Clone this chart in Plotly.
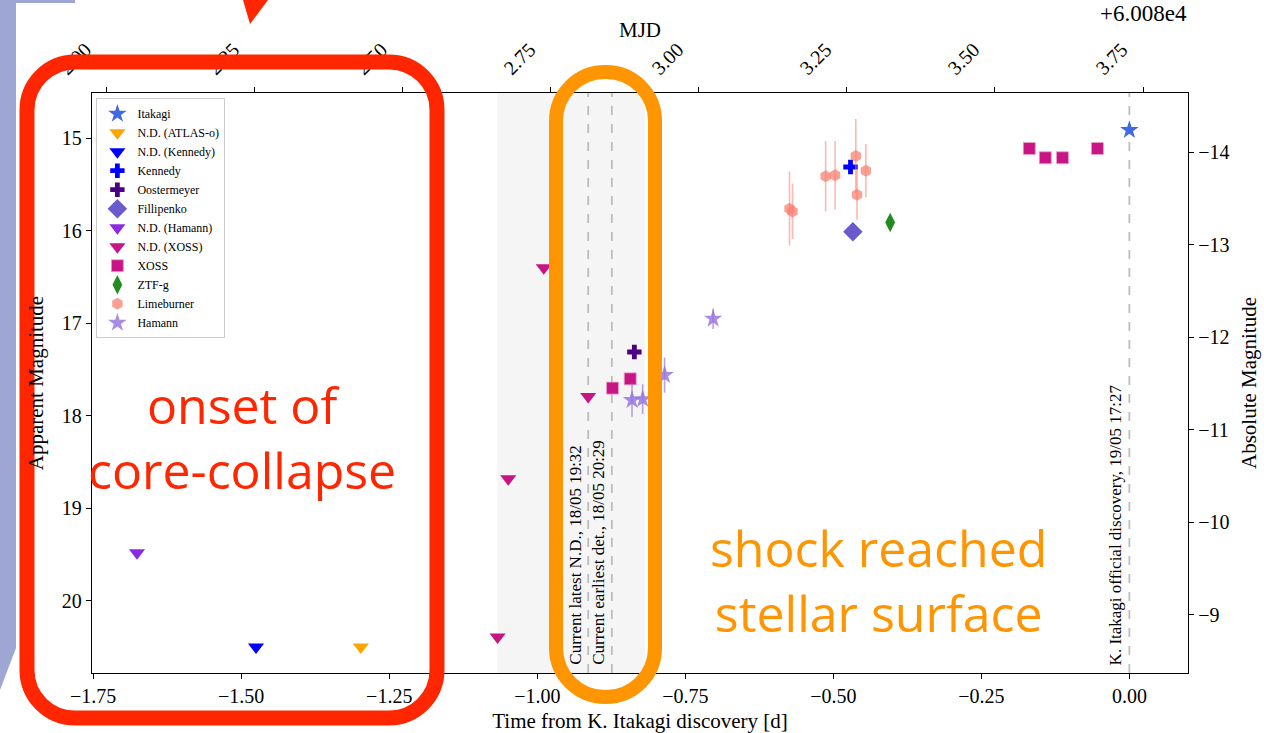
import plotly.graph_objects as go

# ---------------- data (time from K. Itakagi discovery [d], apparent mag) ----------------
itakagi_t = [0.0]
itakagi_m = [14.91]

atlas_nd_t = [-1.298]
atlas_nd_m = [20.50]

kennedy_nd_t = [-1.475]
kennedy_nd_m = [20.50]

kennedy_t = [-0.471]
kennedy_m = [15.31]

oost_t = [-0.836]
oost_m = [17.31]

fill_t = [-0.467]
fill_m = [16.01]

hamann_nd_t = [-1.676]
hamann_nd_m = [19.48]

xoss_nd_t = [-1.067, -1.049, -0.989, -0.914]
xoss_nd_m = [20.39, 18.68, 16.40, 17.79]

xoss_t = [-0.873, -0.843, -0.169, -0.142, -0.113, -0.054]
xoss_m = [17.70, 17.60, 15.11, 15.21, 15.21, 15.11]

ztf_t = [-0.404]
ztf_m = [15.91]

lime_t = [-0.574, -0.569, -0.513, -0.497, -0.462, -0.460, -0.445]
lime_m = [15.76, 15.79, 15.41, 15.40, 15.19, 15.61, 15.35]
lime_e = [0.40, 0.30, 0.38, 0.37, 0.40, 0.27, 0.29]

hamann_t = [-0.840, -0.822, -0.785, -0.703]
hamann_m = [17.83, 17.82, 17.56, 16.95]
hamann_e = [0.18, 0.16, 0.19, 0.11]

# reference epochs
t_latest_nd = -0.914      # 18/05 19:32
t_earliest_det = -0.874   # 18/05 20:29
t_discovery = 0.0         # 19/05 17:27
shade_t = [-1.067, -0.818]

MJD_OFFSET = 3.727        # MJD - 60080 at discovery
DIST_MOD = 29.15

x_range = [-1.752, 0.099]
y_range = [20.78, 14.51]

bottom_ticks = [-1.75, -1.5, -1.25, -1.0, -0.75, -0.5, -0.25, 0.0]
top_ticks = [2.0, 2.25, 2.5, 2.75, 3.0, 3.25, 3.5, 3.75]
top_labels = ["2.00", "2.25", "2.50", "2.75", "3.00", "3.25", "3.50", "3.75"]
left_ticks = [15, 16, 17, 18, 19, 20]
right_ticks = [-14, -13, -12, -11, -10, -9]

SERIF = "Liberation Serif"
W, H = 1264, 733
ML, MR, MT, MB = 92, 76, 93, 60
PW, PH = W - ML - MR, H - MT - MB


def pp(x, y):
    """pixel -> paper coordinates (layout positioning helper)"""
    return (x - ML) / PW, (H - MB - y) / PH


def rrect_path(x0, y0, x1, y1, r):
    k = 0.5523 * r

    def P(x, y):
        a, b = pp(x, y)
        return f"{a:.5f},{b:.5f}"

    d = f"M {P(x0 + r, y0)} L {P(x1 - r, y0)} "
    d += f"C {P(x1 - r + k, y0)} {P(x1, y0 + r - k)} {P(x1, y0 + r)} "
    d += f"L {P(x1, y1 - r)} "
    d += f"C {P(x1, y1 - r + k)} {P(x1 - r + k, y1)} {P(x1 - r, y1)} "
    d += f"L {P(x0 + r, y1)} "
    d += f"C {P(x0 + r - k, y1)} {P(x0, y1 - r + k)} {P(x0, y1 - r)} "
    d += f"L {P(x0, y0 + r)} "
    d += f"C {P(x0, y0 + r - k)} {P(x0 + r - k, y0)} {P(x0 + r, y0)} Z"
    return d


def poly_path(points):
    s = []
    for i, (x, y) in enumerate(points):
        a, b = pp(x, y)
        s.append(("M " if i == 0 else "L ") + f"{a:.5f},{b:.5f}")
    return " ".join(s) + " Z"


fig = go.Figure()


def add(name, t, m, symbol, color, size, line_color=None, opacity=1.0, err=None, err_color=None):
    kw = {}
    if err is not None:
        kw["error_y"] = dict(type="data", array=err, visible=True, color=err_color,
                             thickness=1.6, width=0)
    fig.add_trace(go.Scatter(
        x=t, y=m, mode="markers", name=name,
        marker=dict(symbol=symbol, color=color, size=size, opacity=opacity,
                    line=dict(width=0.8 if line_color else 0, color=line_color or color)),
        **kw))


add("Itakagi", itakagi_t, itakagi_m, "star", "#4169e1", 14)
add("N.D. (ATLAS-o)", atlas_nd_t, atlas_nd_m, "triangle-down", "#ffa500", 14)
add("N.D. (Kennedy)", kennedy_nd_t, kennedy_nd_m, "triangle-down", "#0000ff", 14)
add("Kennedy", kennedy_t, kennedy_m, "cross", "#0000ff", 12)
add("Oostermeyer", oost_t, oost_m, "cross", "#4b0082", 12)
add("Fillipenko", fill_t, fill_m, "diamond", "#6a5acd", 15)
add("N.D. (Hamann)", hamann_nd_t, hamann_nd_m, "triangle-down", "#8a2be2", 14)
add("N.D. (XOSS)", xoss_nd_t, xoss_nd_m, "triangle-down", "#c71585", 14)
add("XOSS", xoss_t, xoss_m, "square", "#c71585", 12, line_color="#f0a0d0")
add("ZTF-g", ztf_t, ztf_m, "diamond-tall", "#228b22", 14)
add("Limeburner", lime_t, lime_m, "hexagon", "#fa8072", 12, opacity=0.75,
    err=lime_e, err_color="rgba(250,128,114,0.55)")
add("Hamann", hamann_t, hamann_m, "star", "#9370db", 14, opacity=0.8,
    err=hamann_e, err_color="rgba(147,112,219,0.65)")

# helper trace placing the secondary (MJD / absolute magnitude) axes
fig.add_trace(go.Scatter(
    x=[t + MJD_OFFSET for t in itakagi_t], y=[m - DIST_MOD for m in itakagi_m],
    xaxis="x2", yaxis="y2", mode="markers", marker=dict(opacity=0),
    showlegend=False, hoverinfo="skip"))

shapes = []
# shaded window
shapes.append(dict(type="rect", xref="x", yref="paper", x0=shade_t[0], x1=shade_t[1],
                   y0=0, y1=1, fillcolor="#f5f5f5", line=dict(width=0), layer="below"))
for tv in [t_latest_nd, t_earliest_det, t_discovery]:
    shapes.append(dict(type="line", xref="x", yref="paper", x0=tv, x1=tv, y0=0, y1=1,
                       line=dict(color="#bdbdbd", width=1.8, dash="dash"), layer="below"))

# slide decoration (left stripe)
shapes.append(dict(type="path", xref="paper", yref="paper",
                   path=poly_path([(0, 0), (16, 0), (16, 648), (0, 690)]),
                   fillcolor="#9ea6d4", line=dict(width=0), layer="above"))
shapes.append(dict(type="path", xref="paper", yref="paper",
                   path=poly_path([(0, 0), (75, 0), (75, 3), (0, 3)]),
                   fillcolor="#9ea6d4", line=dict(width=0), layer="above"))
# hand-drawn highlight boxes
shapes.append(dict(type="path", xref="paper", yref="paper",
                   path=rrect_path(27, 62, 437, 718, 48),
                   line=dict(color="#ff2600", width=15), layer="above"))
shapes.append(dict(type="path", xref="paper", yref="paper",
                   path=rrect_path(556, 72, 655, 697, 49),
                   line=dict(color="#ff9500", width=14), layer="above"))
# red arrow tip at the top
shapes.append(dict(type="path", xref="paper", yref="paper",
                   path=poly_path([(243, 0), (268, 0), (250, 24)]),
                   fillcolor="#ff2600", line=dict(width=0), layer="above"))

annotations = []
vfont = dict(family=SERIF, size=17, color="black")
for tv, txt in [(t_latest_nd, "Current latest N.D., 18/05 19:32"),
                (t_earliest_det, "Current earliest det., 18/05 20:29"),
                (t_discovery, "K. Itakagi official discovery, 19/05 17:27")]:
    annotations.append(dict(x=tv, y=0, xref="x", yref="paper", text=txt, textangle=-90,
                            xanchor="right", yanchor="bottom", xshift=-2, yshift=6,
                            showarrow=False, font=vfont))

ax, ay = pp(640, 30)
annotations.append(dict(x=0.5, y=ay, xref="paper", yref="paper", text="MJD",
                        xanchor="center", yanchor="middle",
                        showarrow=False, font=dict(family=SERIF, size=21, color="black")))
ax, ay = pp(1189, 14)
annotations.append(dict(x=ax, y=ay, xref="paper", yref="paper", text="+6.008e4",
                        xanchor="right", yanchor="middle", showarrow=False,
                        font=dict(family=SERIF, size=23, color="black")))

big = dict(family="Open Sans", size=50)
for (cx, cy, txt, col) in [(242, 437, "onset of<br>core-collapse", "#ff2600"),
                           (878, 580, "shock reached<br>stellar surface", "#ff9500")]:
    a, b = pp(cx, cy)
    annotations.append(dict(x=a, y=b, xref="paper", yref="paper", text=txt,
                            xanchor="center", yanchor="middle", align="center",
                            showarrow=False, font=dict(color=col, **big)))

axis_common = dict(showline=True, linecolor="black", linewidth=1.3, ticks="outside",
                   ticklen=5, tickwidth=1.2, tickcolor="black", showgrid=False,
                   zeroline=False, automargin=False,
                   tickfont=dict(family=SERIF, size=20, color="black"))

fig.update_layout(
    width=W, height=H, template="none",
    margin=dict(l=ML, r=MR, t=MT, b=MB, pad=0),
    paper_bgcolor="white", plot_bgcolor="white",
    showlegend=True,
    legend=dict(x=0.004, y=0.991, xanchor="left", yanchor="top",
                bgcolor="white", bordercolor="#cccccc", borderwidth=1,
                font=dict(family=SERIF, size=12, color="black"),
                tracegroupgap=0, itemwidth=30),
    xaxis=dict(range=x_range, tickvals=bottom_ticks, tickformat=".2f",
               title=dict(text="Time from K. Itakagi discovery [d]", standoff=8,
                          font=dict(family=SERIF, size=21, color="black")),
               **axis_common),
    xaxis2=dict(range=[x_range[0] + MJD_OFFSET, x_range[1] + MJD_OFFSET],
                overlaying="x", side="top", anchor="y", tickvals=top_ticks,
                ticktext=top_labels, tickangle=-45, ticklabelshift=-46, **axis_common),
    yaxis=dict(range=y_range, tickvals=left_ticks,
               title=dict(text="Apparent Magnitude", standoff=12,
                          font=dict(family=SERIF, size=21, color="black")),
               **axis_common),
    yaxis2=dict(range=[y_range[0] - DIST_MOD, y_range[1] - DIST_MOD], overlaying="y",
                side="right", anchor="x", tickvals=right_ticks, tickformat="d",
                title=dict(text="Absolute Magnitude", standoff=12,
                           font=dict(family=SERIF, size=21, color="black")),
                **axis_common),
    shapes=shapes, annotations=annotations,
)

fig.write_html("out.html")
